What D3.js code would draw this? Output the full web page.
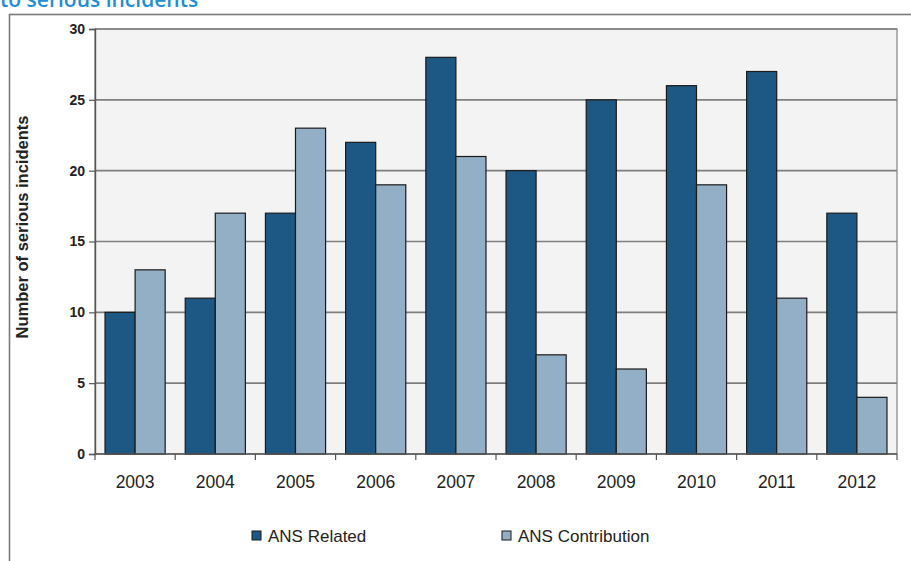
<!DOCTYPE html>
<html>
<head>
<meta charset="utf-8">
<script src="https://cdn.jsdelivr.net/npm/d3@7"></script>
<style>
  html, body { margin: 0; padding: 0; background: #fff; }
  svg { display: block; font-family: "Liberation Sans", Arial, sans-serif; }
</style>
</head>
<body>
<svg id="chart" width="911" height="561"></svg>
<script>
// Serious incidents per year, split by ANS involvement
const years = ["2003", "2004", "2005", "2006", "2007", "2008", "2009", "2010", "2011", "2012"];
const ansRelated = [10, 11, 17, 22, 28, 20, 25, 26, 27, 17];
const ansContribution = [13, 17, 23, 19, 21, 7, 6, 19, 11, 4];
const seriesNames = ["ANS Related", "ANS Contribution"];
const yTicks = [0, 5, 10, 15, 20, 25, 30];

const colors = { "ANS Related": "#1d5884", "ANS Contribution": "#92afc6" };

const svg = d3.select("#chart");
const plot = { left: 95, right: 897, top: 29, bottom: 454 };

// heading (runs off the top of the page)
svg.append("text")
  .attr("x", 0).attr("y", 7)
  .attr("fill", "#1e8ed6")
  .attr("font-size", 21)
  .attr("font-weight", 600)
  .attr("font-family", "'Open Sans', 'Liberation Sans', sans-serif")
  .text("to serious incidents");

// outer frame
svg.append("rect")
  .attr("x", 9.5).attr("y", 14.5)
  .attr("width", 920).attr("height", 600)
  .attr("fill", "none")
  .attr("stroke", "#7a7a7a")
  .attr("stroke-width", 1.6);

const x0 = d3.scaleBand().domain(years)
  .range([plot.left, plot.right])
  .paddingInner(0.25).paddingOuter(0.125);
const x1 = d3.scaleBand().domain(seriesNames).range([0, x0.bandwidth()]);
const y = d3.scaleLinear().domain([0, 30]).range([plot.bottom, plot.top]);

// plot background
svg.append("rect")
  .attr("x", plot.left).attr("y", plot.top)
  .attr("width", plot.right - plot.left).attr("height", plot.bottom - plot.top)
  .attr("fill", "#f3f3f3")
  .attr("stroke", "#8a8a8a").attr("stroke-width", 1.3);

// horizontal gridlines
svg.append("g").selectAll("line")
  .data(yTicks.filter(d => d > 0))
  .join("line")
  .attr("x1", plot.left).attr("x2", plot.right)
  .attr("y1", d => y(d)).attr("y2", d => y(d))
  .attr("stroke", "#7f7f7f").attr("stroke-width", 1.6);

// bars
const rows = years.map((yr, i) => ({ year: yr, values: [
  { key: "ANS Related", value: ansRelated[i] },
  { key: "ANS Contribution", value: ansContribution[i] }
]}));

svg.append("g").selectAll("g")
  .data(rows).join("g")
  .attr("transform", d => `translate(${x0(d.year)},0)`)
  .selectAll("rect")
  .data(d => d.values).join("rect")
  .attr("x", d => x1(d.key))
  .attr("y", d => y(d.value))
  .attr("width", x1.bandwidth())
  .attr("height", d => y(0) - y(d.value))
  .attr("fill", d => colors[d.key])
  .attr("stroke", "#1a1a1a")
  .attr("stroke-width", 1.2);

// y axis
const yAxis = svg.append("g")
  .attr("transform", `translate(${plot.left},0)`)
  .call(d3.axisLeft(y).tickValues(yTicks).tickSize(6).tickPadding(4));
yAxis.select(".domain").attr("stroke", "#555").attr("stroke-width", 1.4);
yAxis.selectAll(".tick line").attr("stroke", "#555").attr("stroke-width", 1.2);
yAxis.selectAll(".tick text")
  .attr("font-size", 14).attr("font-weight", "bold").attr("fill", "#222")
  .attr("font-family", "'Liberation Sans', Arial, sans-serif");

// x axis: ticks on category boundaries
const xAxisG = svg.append("g").attr("transform", `translate(0,${plot.bottom})`);
xAxisG.append("line")
  .attr("x1", plot.left).attr("x2", plot.right)
  .attr("stroke", "#555").attr("stroke-width", 1.4);
const boundaries = years.map(yr => x0(yr) - x0.step() * x0.paddingInner() / 2)
  .concat([plot.right]);
xAxisG.selectAll("line.tk")
  .data(boundaries).join("line").attr("class", "tk")
  .attr("x1", d => d).attr("x2", d => d)
  .attr("y1", 0).attr("y2", 6)
  .attr("stroke", "#555").attr("stroke-width", 1.2);
xAxisG.selectAll("text")
  .data(years).join("text")
  .attr("x", d => x0(d) + x0.bandwidth() / 2)
  .attr("y", 34)
  .attr("text-anchor", "middle")
  .attr("font-size", 17.5).attr("fill", "#222")
  .text(d => d);

// y axis title
svg.append("text")
  .attr("transform", "translate(28,227) rotate(-90)")
  .attr("text-anchor", "middle")
  .attr("font-size", 16.5).attr("font-weight", "bold").attr("fill", "#222")
  .text("Number of serious incidents");

// legend
const legendX = [252, 502];
const legend = svg.append("g").selectAll("g")
  .data(seriesNames).join("g")
  .attr("transform", (d, i) => `translate(${legendX[i]},531)`);
legend.append("rect")
  .attr("width", 9).attr("height", 9)
  .attr("fill", d => colors[d])
  .attr("stroke", "#1a1a1a").attr("stroke-width", 1);
legend.append("text")
  .attr("x", 16).attr("y", 11)
  .attr("font-size", 17).attr("fill", "#222")
  .text(d => d);
</script>
</body>
</html>
